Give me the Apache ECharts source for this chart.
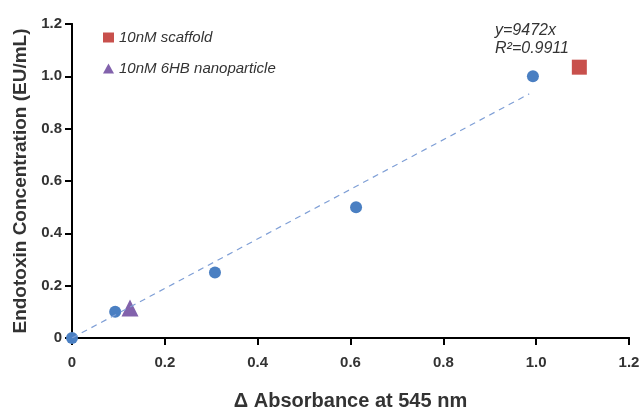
<!DOCTYPE html>
<html lang="en">
<head>
    <meta charset="UTF-8">
    <title>Endotoxin standard curve</title>
    <script src="https://cdn.jsdelivr.net/npm/echarts@6.0.0/dist/echarts.min.js"></script>
    <style>
        body { margin: 0; padding: 0; background: #fff; }
        #chart { width: 644px; height: 410px; }
    </style>
</head>
<body>
    <div id="chart"></div>
    <script>
        // standard points (absorbance, concentration)
        const stdAbs = [0, 0.093, 0.308, 0.612, 0.993];
        const stdConc = [0, 0.1, 0.25, 0.5, 1.0];
        // samples
        const scaffold = [1.093, 1.035];
        const nanoparticle = [0.125, 0.115];
        // fit line y = 0.9472x
        const fitSlope = 0.9472;
        const fitRange = [0, 0.985];
        const fitText = ['y=9472x', 'R\u00b2=0.9911'];

        const fmt = function (v) { return v === 0 ? '0' : v.toFixed(1); };
        const fitData = fitRange.map(function (x) { return [x, fitSlope * x]; });
        const font = 'Liberation Sans';
        const gridBox = { left: 72, right: 15, top: 24, bottom: 72, outerBoundsMode: 'none' };

        const axisLine = { show: true, onZero: false, lineStyle: { color: 'black', width: 2 } };
        const axisTick = { show: true, length: 7, lineStyle: { color: 'black', width: 2 } };
        const noteStyle = { fontStyle: 'italic', fontSize: 16, fill: '#333', fontFamily: font };

        // bare axes only (line + ticks) on a second grid laid over the first one
        function bareAxis(pos) {
            return {
                type: 'value', gridIndex: 1, position: pos, min: 0, max: 1.2, interval: 0.2,
                axisLine: axisLine, axisTick: axisTick,
                axisLabel: { show: false }, splitLine: { show: false }
            };
        }

        const chart = echarts.init(document.getElementById('chart'));
        chart.setOption({
            animation: false,
            grid: [gridBox, Object.assign({}, gridBox)],
            legend: {
                orient: 'vertical',
                left: 98,
                top: 25,
                itemGap: 16,
                itemWidth: 11,
                itemHeight: 10,
                data: [
                    { name: '10nM scaffold', icon: 'rect' },
                    { name: '10nM 6HB nanoparticle', icon: 'triangle' }
                ],
                textStyle: { fontStyle: 'italic', fontSize: 15, color: '#333', fontFamily: font }
            },
            xAxis: [{
                type: 'value', gridIndex: 0, position: 'bottom', min: 0, max: 1.2, interval: 0.2,
                name: '\u0394 Absorbance at 545 nm',
                nameLocation: 'middle', nameGap: 53,
                nameTextStyle: { fontWeight: 'bold', fontSize: 20, color: '#333', fontFamily: font },
                axisLine: axisLine,
                axisTick: axisTick,
                axisLabel: { formatter: fmt, fontWeight: 'bold', fontSize: 15, color: '#333', margin: 17, fontFamily: font },
                splitLine: { show: false }
            }, bareAxis('bottom')],
            yAxis: [{
                type: 'value', gridIndex: 0, position: 'left', min: 0, max: 1.2, interval: 0.2,
                name: 'Endotoxin Concentration (EU/mL)',
                nameLocation: 'middle', nameGap: 39,
                nameTextStyle: { fontWeight: 'bold', fontSize: 19, color: '#333', fontFamily: font },
                axisLine: axisLine,
                axisTick: axisTick,
                axisLabel: { formatter: fmt, fontWeight: 'bold', fontSize: 15, color: '#333', margin: 10, fontFamily: font },
                splitLine: { show: false }
            }, bareAxis('left')],
            graphic: [
                { type: 'text', left: 495, top: 23, z: 10, style: Object.assign({ text: fitText[0] }, noteStyle) },
                { type: 'text', left: 495, top: 41, z: 10, style: Object.assign({ text: fitText[1] }, noteStyle) }
            ],
            series: [
                {
                    name: 'fit', type: 'line', data: fitData,
                    symbol: 'none', silent: true,
                    lineStyle: { color: '#7f9fd6', width: 1.2, type: [6, 5] }
                },
                {
                    name: 'standard', type: 'scatter',
                    data: stdAbs.map(function (x, i) { return [x, stdConc[i]]; }),
                    symbol: 'circle', symbolSize: 12,
                    itemStyle: { color: '#4a7fc2', opacity: 1 }
                },
                {
                    name: '10nM scaffold', type: 'scatter', data: [scaffold],
                    symbol: 'rect', symbolSize: 15,
                    itemStyle: { color: '#c8504c', opacity: 1 }
                },
                {
                    name: '10nM 6HB nanoparticle', type: 'scatter', data: [nanoparticle],
                    symbol: 'triangle', symbolSize: 17,
                    itemStyle: { color: '#8262ac', opacity: 1 }
                }
            ]
        });
    </script>
</body>
</html>
